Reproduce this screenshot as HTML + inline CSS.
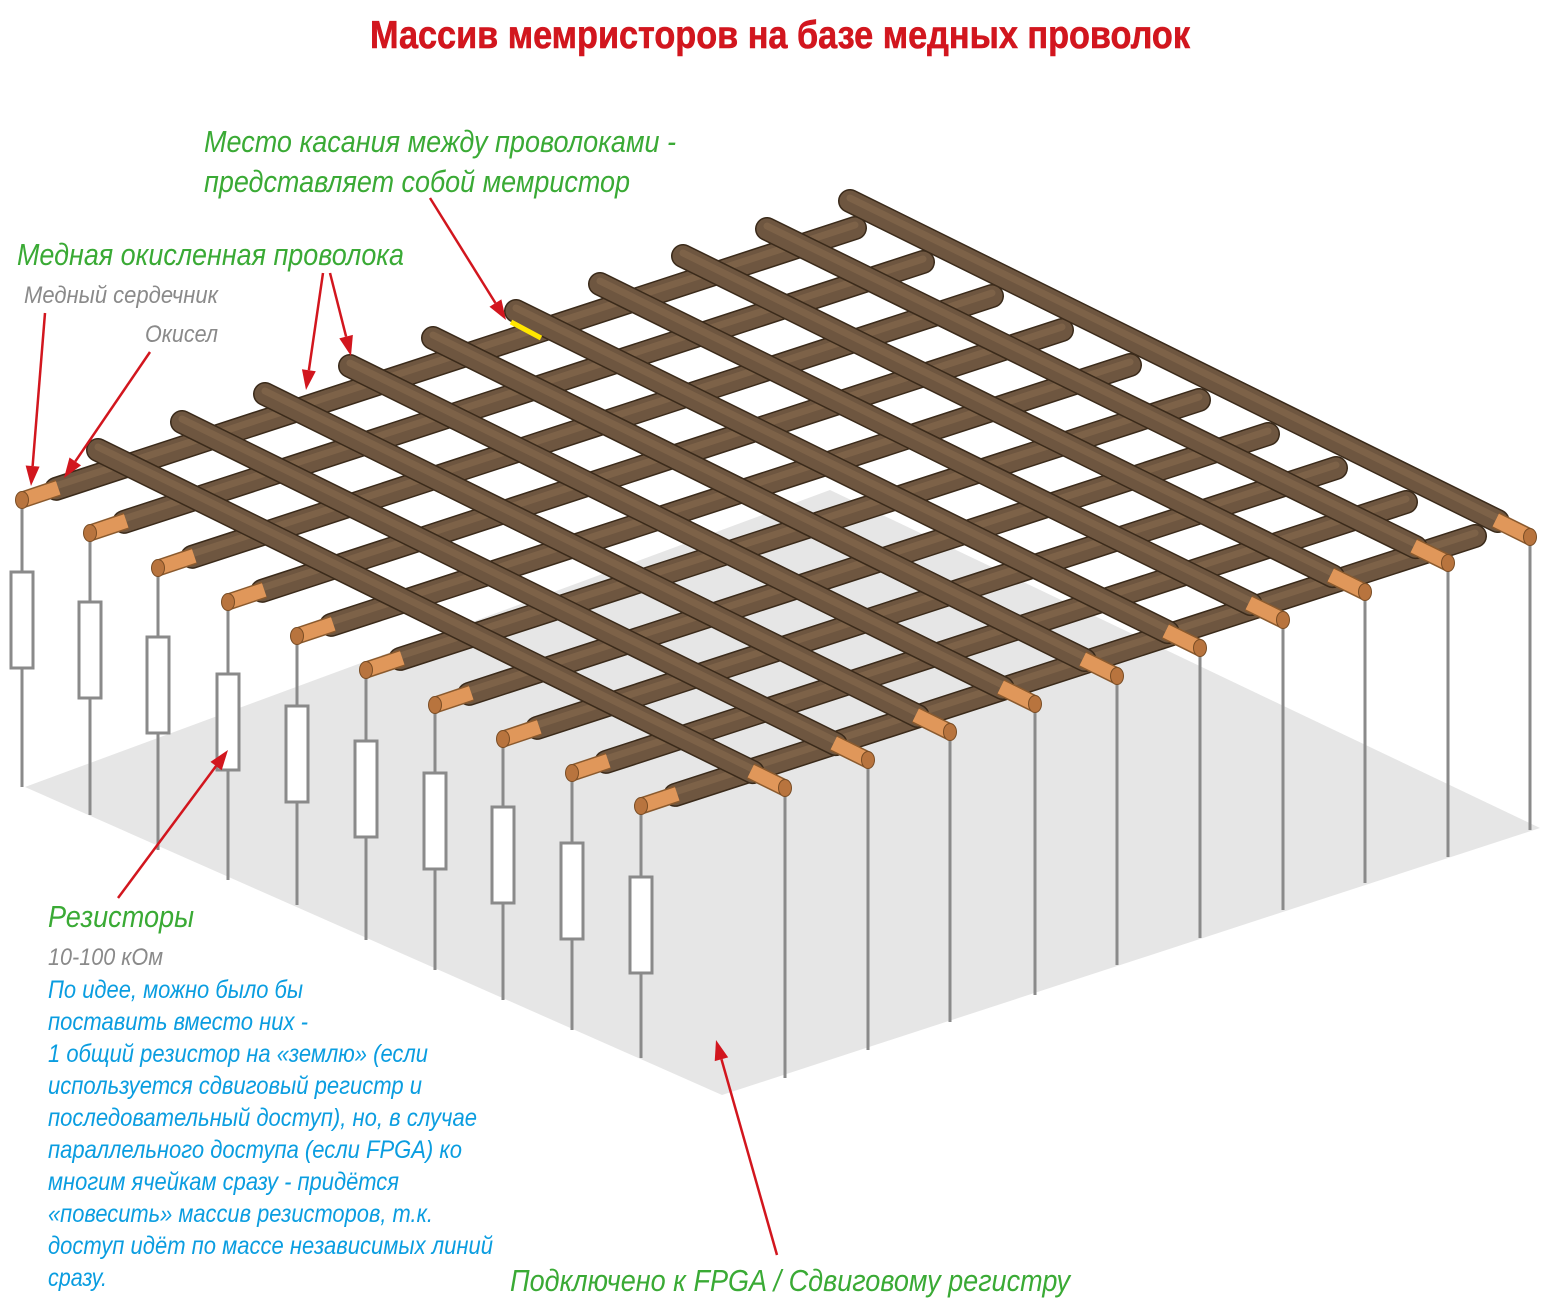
<!DOCTYPE html>
<html><head><meta charset="utf-8"><style>
html,body{margin:0;padding:0;background:#fff;}
svg{display:block;}
.t{font-family:"Liberation Sans Narrow","Liberation Sans",sans-serif;font-style:italic;}
</style></head><body>
<svg id="s" width="1560" height="1305" viewBox="0 0 1560 1305" xmlns="http://www.w3.org/2000/svg">
<polygon points="25,787 830,490 1540,828 722,1095" fill="#e6e6e6"/>
<g id="verts" stroke="#8a8a8a" stroke-width="3" fill="#fff"></g>
<g id="lower"></g>
<g id="upper"></g>
<line x1="511" y1="322" x2="541" y2="338" stroke="#ffe600" stroke-width="5"/>
<g id="arrows" stroke="#d2161e" stroke-width="2.5" fill="#d2161e"></g>

<text x="780" y="48" text-anchor="middle" font-family="'Liberation Sans Narrow','Liberation Sans',sans-serif" font-weight="bold" font-size="39" fill="#d2161e" stroke="#d2161e" stroke-width="0.6" textLength="820" lengthAdjust="spacingAndGlyphs">Массив мемристоров на базе медных проволок</text>

<g class="t" fill="#3aaa35" font-size="31">
<text x="204" y="152" textLength="472" lengthAdjust="spacingAndGlyphs">Место касания между проволоками -</text>
<text x="204" y="192" textLength="426" lengthAdjust="spacingAndGlyphs">представляет собой мемристор</text>
<text x="17" y="265" textLength="387" lengthAdjust="spacingAndGlyphs">Медная окисленная проволока</text>
<text x="48" y="927" textLength="146" lengthAdjust="spacingAndGlyphs">Резисторы</text>
<text x="510" y="1291" textLength="560" lengthAdjust="spacingAndGlyphs">Подключено к FPGA / Сдвиговому регистру</text>
</g>
<g class="t" fill="#8a8a8a" font-size="24">
<text x="24" y="303" textLength="194" lengthAdjust="spacingAndGlyphs">Медный сердечник</text>
<text x="145" y="342" textLength="73" lengthAdjust="spacingAndGlyphs">Окисел</text>
<text x="48" y="965" textLength="115" lengthAdjust="spacingAndGlyphs">10-100 кОм</text>
</g>
<g class="t" fill="#0a9de0" font-size="25">
<text x="48" y="998" textLength="255" lengthAdjust="spacingAndGlyphs">По идее, можно было бы</text>
<text x="48" y="1030" textLength="260" lengthAdjust="spacingAndGlyphs">поставить вместо них -</text>
<text x="48" y="1062" textLength="380" lengthAdjust="spacingAndGlyphs">1 общий резистор на «землю» (если</text>
<text x="48" y="1094" textLength="374" lengthAdjust="spacingAndGlyphs">используется сдвиговый регистр и</text>
<text x="48" y="1126" textLength="429" lengthAdjust="spacingAndGlyphs">последовательный доступ), но, в случае</text>
<text x="48" y="1158" textLength="414" lengthAdjust="spacingAndGlyphs">параллельного доступа (если FPGA) ко</text>
<text x="48" y="1190" textLength="351" lengthAdjust="spacingAndGlyphs">многим ячейкам сразу - придётся</text>
<text x="48" y="1222" textLength="385" lengthAdjust="spacingAndGlyphs">«повесить» массив резисторов, т.к.</text>
<text x="48" y="1254" textLength="445" lengthAdjust="spacingAndGlyphs">доступ идёт по массе независимых линий</text>
<text x="48" y="1286" textLength="59" lengthAdjust="spacingAndGlyphs">сразу.</text>
</g>
</svg>
<script>
var NS="http://www.w3.org/2000/svg";
function el(p,n,a){var e=document.createElementNS(NS,n);for(var k in a)e.setAttribute(k,a[k]);p.appendChild(e);return e;}
var L=[[22,500],[90,533],[158,568],[228,602],[297,636],[366,670],[435,705],[503,739],[572,773],[641,806]];
var R=[[855,228],[923,262],[992,296],[1062,330],[1130,365],[1199,400],[1268,434],[1336,468],[1406,502],[1475,536]];
var S=[[98,450],[182,422],[265,394],[350,366],[433,338],[516,311],[600,284],[683,256],[767,229],[850,201]];
var E=[[785,788],[868,760],[950,732],[1035,704],[1117,676],[1200,648],[1283,620],[1365,592],[1448,563],[1530,537]];
var lf=[787,815,850,880,905,940,970,1000,1030,1058];
var rf=[1078,1050,1022,995,965,938,910,883,857,830];
var ry=[572,602,637,674,706,741,773,807,843,877];
var V=document.getElementById('verts');
for(var i=0;i<10;i++){
 el(V,'line',{x1:L[i][0],y1:L[i][1],x2:L[i][0],y2:lf[i]});
 el(V,'rect',{x:L[i][0]-11,y:ry[i],width:22,height:96});
 el(V,'line',{x1:E[i][0],y1:E[i][1],x2:E[i][0],y2:rf[i]});
}
function wire(g,a,b){
 el(g,'line',{x1:a[0],y1:a[1],x2:b[0],y2:b[1],stroke:'#3a2a1a','stroke-width':24,'stroke-linecap':'round'});
 el(g,'line',{x1:a[0],y1:a[1],x2:b[0],y2:b[1],stroke:'#6e5640','stroke-width':21,'stroke-linecap':'round'});
 el(g,'line',{x1:a[0],y1:a[1]-3,x2:b[0],y2:b[1]-3,stroke:'#7d6248','stroke-width':7,'stroke-linecap':'round'});
}
function copper(g,a,b){
 el(g,'line',{x1:a[0],y1:a[1],x2:b[0],y2:b[1],stroke:'#8a5a2e','stroke-width':17,'stroke-linecap':'butt'});
 el(g,'line',{x1:a[0],y1:a[1],x2:b[0],y2:b[1],stroke:'#e0975a','stroke-width':14,'stroke-linecap':'butt'});
 el(g,'ellipse',{cx:a[0],cy:a[1],rx:6.5,ry:8.5,fill:'#b8743e',stroke:'#7a4d25','stroke-width':1});
}
var G1=document.getElementById('lower'),G2=document.getElementById('upper');
for(var i=0;i<10;i++){
 var a=L[i],b=R[i];var dx=b[0]-a[0],dy=b[1]-a[1],d=Math.hypot(dx,dy);
 var m=[a[0]+dx/d*36,a[1]+dy/d*36];
 wire(G1,m,b);copper(G1,a,[m[0]+2,m[1]-1]);
}
for(var i=9;i>=0;i--){
 var a=S[i],b=E[i];var dx=b[0]-a[0],dy=b[1]-a[1],d=Math.hypot(dx,dy);
 var m=[b[0]-dx/d*36,b[1]-dy/d*36];
 wire(G2,a,m);copper(G2,b,[m[0]-2,m[1]-1]);
}
var A=document.getElementById('arrows');
function arrow(x1,y1,x2,y2){
 var dx=x2-x1,dy=y2-y1,d=Math.hypot(dx,dy),ux=dx/d,uy=dy/d;
 var bx=x2-ux*20,by=y2-uy*20;
 el(A,'line',{x1:x1,y1:y1,x2:bx,y2:by});
 el(A,'polygon',{points:x2+','+y2+' '+(bx-uy*7)+','+(by+ux*7)+' '+(bx+uy*7)+','+(by-ux*7),stroke:'none'});
}
arrow(45,313,31,486);arrow(150,352,64,478);arrow(323,273,306,390);arrow(330,273,351,356);
arrow(430,198,506,320);arrow(118,898,228,750);arrow(777,1255,716,1040);
</script>
</body></html>
